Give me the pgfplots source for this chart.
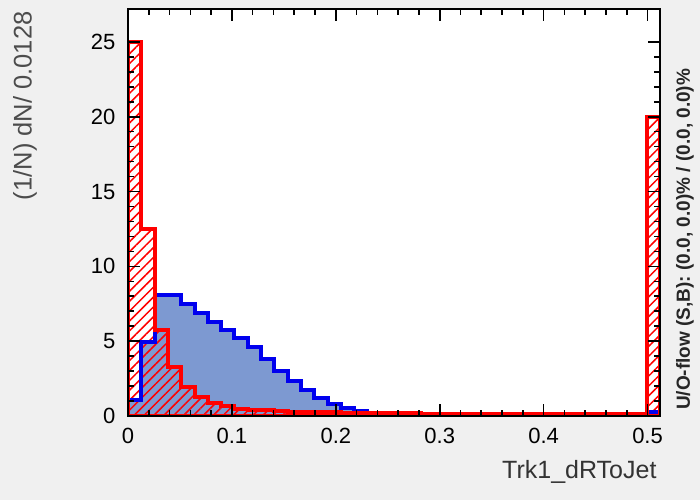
\documentclass[border=0pt]{standalone}
\usepackage{pgfplots}
\pgfplotsset{compat=1.18}
\usepackage{pgfplotstable}
\usepackage{fontspec}
\setmainfont{Liberation Sans}
\usetikzlibrary{patterns.meta}
\definecolor{bgc}{RGB}{240,240,240}
\definecolor{sigfill}{RGB}{125,153,209}
\definecolor{sigline}{RGB}{0,0,238}
\definecolor{bkgline}{RGB}{255,0,0}

\pgfplotstableread{
x sig bkg
0 1.1 25.0
0.0128 4.95 12.5
0.0256 8.1 5.75
0.0384 8.1 3.3
0.0512 7.5 1.95
0.064 6.9 1.3
0.0768 6.3 0.9
0.0896 5.75 0.65
0.1024 5.2 0.5
0.1152 4.6 0.42
0.128 3.8 0.38
0.1408 3.0 0.34
0.1536 2.35 0.3
0.1664 1.75 0.28
0.1792 1.2 0.26
0.192 0.8 0.24
0.2048 0.53 0.22
0.2176 0.34 0.21
0.2304 0.22 0.2
0.2432 0.14 0.19
0.256 0.09 0.18
0.2688 0.07 0.17
0.2816 0.05 0.16
0.2944 0.04 0.16
0.3072 0.03 0.15
0.32 0.03 0.15
0.3328 0.03 0.14
0.3456 0.03 0.14
0.3584 0.02 0.14
0.3712 0.02 0.13
0.384 0.02 0.13
0.3968 0.02 0.13
0.4096 0.02 0.13
0.4224 0.02 0.12
0.4352 0.01 0.12
0.448 0.01 0.12
0.4608 0.01 0.12
0.4736 0.01 0.12
0.4864 0.01 0.12
0.4992 0.3 20.0
0.512 0.3 20.0
}\hist

\begin{document}
\begin{tikzpicture}[x=1pt,y=1pt]
\fill[bgc] (0,0) rectangle (700,500);
\begin{axis}[
  at={(128pt,84pt)}, anchor=south west,
  scale only axis, width=532pt, height=407pt,
  xmin=0, xmax=0.512, ymin=0, ymax=27.2,
  axis on top,
  axis background/.style={fill=white},
  axis line style={line width=2.5pt, black},
  xtick={0,0.1,0.2,0.3,0.4,0.5},
  ytick={0,5,10,15,20,25},
  minor x tick num=4, minor y tick num=4,
  tick align=inside,
  xtick pos=both, ytick pos=both,
  major tick length=12pt, minor tick length=6pt,
  every tick/.style={black, line width=1.6pt},
  /pgf/number format/assume math mode=true,
  xticklabel style={/pgf/number format/fixed, /pgf/number format/precision=1, font=\fontsize{22}{26}\selectfont, yshift=-9pt},
  yticklabel style={font=\fontsize{22}{26}\selectfont, xshift=-9pt},
  scaled x ticks=false,
]
\addplot[draw=none, fill=sigfill, const plot mark left] table[x=x,y=sig]{\hist} \closedcycle;
\addplot[draw=none, pattern={Lines[angle=45,distance=7pt,line width=1.5pt]}, pattern color=bkgline, const plot mark left] table[x=x,y=bkg]{\hist} \closedcycle;
\addplot[sigline, line width=4pt, const plot mark left] table[x=x,y=sig]{\hist} \closedcycle;
\addplot[bkgline, line width=4pt, const plot mark left] table[x=x,y=bkg]{\hist} \closedcycle;
\end{axis}
\node[rotate=90, anchor=east, font=\fontsize{25.5}{30}\selectfont, text=black!70] at (25,492) {(1/N) dN/ 0.0128};
\node[anchor=base east, font=\fontsize{25}{30}\selectfont, text=black!80] at (660,22) {Trk1\_dRToJet};
\node[rotate=90, anchor=west, font=\bfseries\fontsize{19}{22}\selectfont, text=black!85, inner sep=0pt] at (685,90) {U/O-flow (S,B): (0.0, 0.0)\% / (0.0, 0.0)\%};
\end{tikzpicture}
\end{document}
